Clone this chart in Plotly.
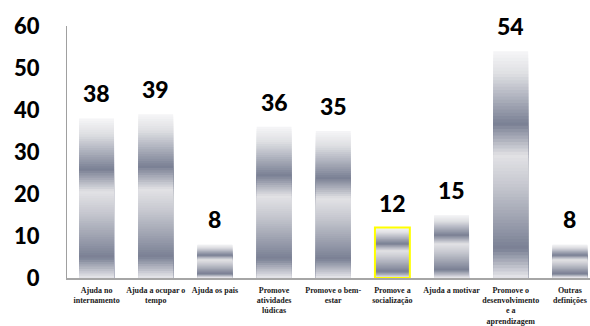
import plotly.graph_objects as go

# Categories and counts
categories = [
    "Ajuda no<br>internamento",
    "Ajuda a ocupar o<br>tempo",
    "Ajuda os pais",
    "Promove<br>atividades<br>lúdicas",
    "Promove o bem-<br>estar",
    "Promove a<br>socialização",
    "Ajuda a motivar",
    "Promove o<br>desenvolvimento<br>e a<br>aprendizagem",
    "Outras<br>definições",
]
values = [38, 39, 8, 36, 35, 12, 15, 54, 8]
highlighted = "Promove a<br>socialização"

y_ticks = [0, 10, 20, 30, 40, 50, 60]

# Vertical gradient (t = 0 at bar top, 1 at bar bottom)
stops = [
    (0.00, (246, 246, 247)),
    (0.10, (222, 223, 227)),
    (0.32, (122, 128, 148)),
    (0.46, (226, 226, 229)),
    (0.60, (196, 198, 206)),
    (0.87, (122, 128, 148)),
    (1.00, (232, 232, 236)),
]


def grad_color(t):
    for (t0, c0), (t1, c1) in zip(stops[:-1], stops[1:]):
        if t0 <= t <= t1:
            f = (t - t0) / (t1 - t0) if t1 > t0 else 0
            r, g, b = (round(a + (b_ - a) * f) for a, b_ in zip(c0, c1))
            return f"rgb({r},{g},{b})"
    r, g, b = stops[-1][1]
    return f"rgb({r},{g},{b})"


N = 70
fig = go.Figure()

# Gradient fill: nested bars from the full height down to the thinnest,
# each one painted over the previous so no seams appear between bands
for i in range(N - 1, -1, -1):
    frac_hi = (i + 1) / N
    t = 1 - (i + 0.5) / N
    fig.add_trace(go.Bar(
        x=categories,
        y=[v * frac_hi for v in values],
        marker=dict(color=grad_color(t), line=dict(width=0)),
        hoverinfo="skip",
        showlegend=False,
    ))

# Outline for the highlighted category
fig.add_trace(go.Bar(
    x=categories,
    y=values,
    marker=dict(
        color="rgba(0,0,0,0)",
        line=dict(
            color="#ffff00",
            width=[2 if c == highlighted else 0 for c in categories],
        ),
    ),
    hoverinfo="skip",
    showlegend=False,
))

# Value labels above the bars
for c, v in zip(categories, values):
    fig.add_annotation(
        x=c, y=v, text=str(v), showarrow=False,
        yanchor="bottom", yshift=9,
        font=dict(family="Lato", size=23, color="#000000", weight=900),
    )

fig.update_layout(
    width=590, height=326,
    margin=dict(l=67, r=0, t=26, b=40),
    paper_bgcolor="white",
    plot_bgcolor="white",
    barmode="overlay",
    bargap=0.41,
    showlegend=False,
    xaxis=dict(
        type="category",
        range=[-0.5, 8.34],
        showline=True, linecolor="#a6a6a6", linewidth=2,
        showgrid=False, zeroline=False,
        ticks="",
        tickangle=0,
        ticklabelstandoff=3,
        tickfont=dict(family="Liberation Serif", size=8, color="#1a1a1a", weight=700),
    ),
    yaxis=dict(
        range=[0, 60],
        tickvals=y_ticks,
        showline=True, linecolor="#a0a0a0", linewidth=1.2,
        showgrid=False, zeroline=False,
        ticks="",
        ticklabelstandoff=22,
        tickfont=dict(family="Lato", size=22, color="#000000", weight=900),
    ),
)

fig.write_html("out.html")
